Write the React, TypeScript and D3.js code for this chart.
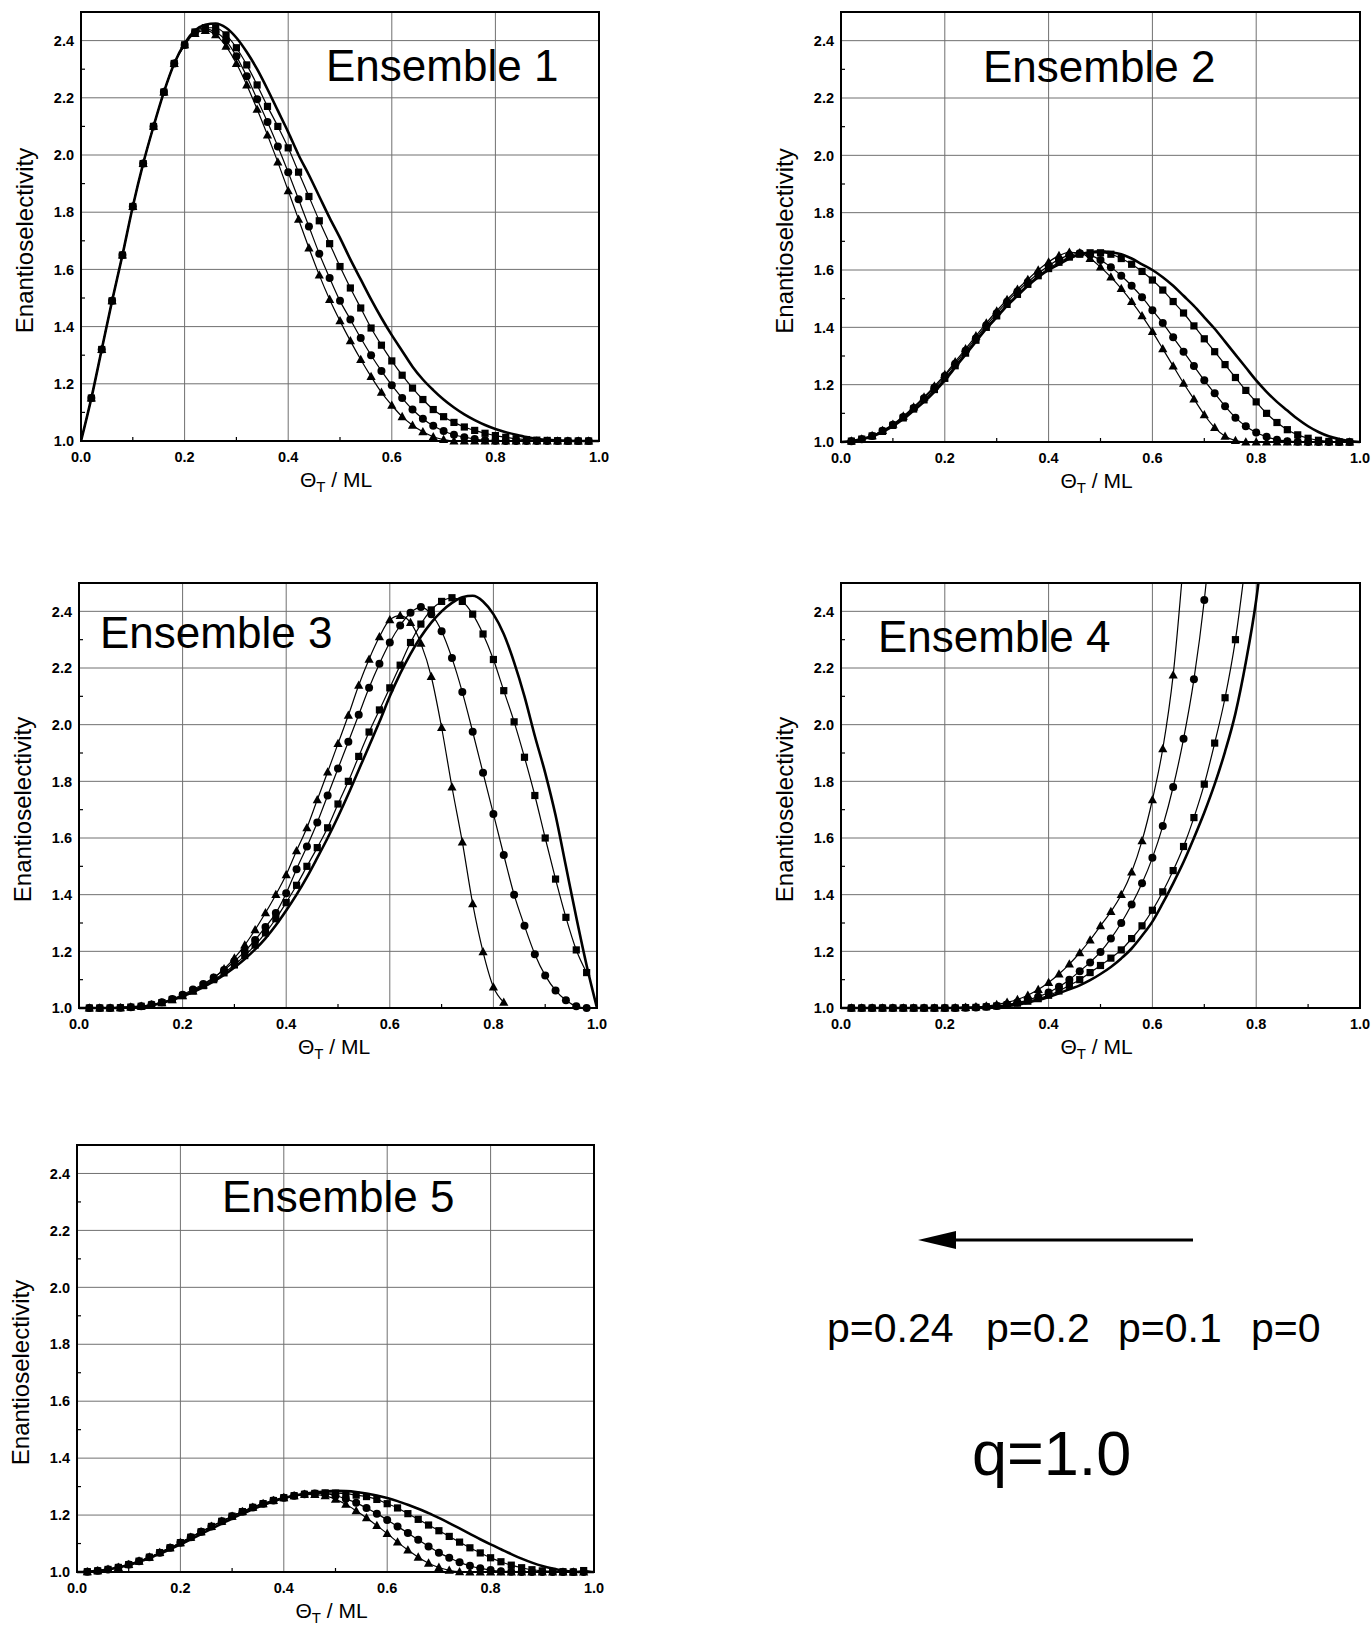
import React from 'react';
import * as d3 from 'd3';

// ---------- shared axes ----------
const THETA = [0, 0.02, 0.04, 0.06, 0.08, 0.1, 0.12, 0.14, 0.16, 0.18, 0.2, 0.22, 0.24, 0.26, 0.28, 0.3, 0.32, 0.34, 0.36, 0.38, 0.4, 0.42, 0.44, 0.46, 0.48, 0.5, 0.52, 0.54, 0.56, 0.58, 0.6, 0.62, 0.64, 0.66, 0.68, 0.7, 0.72, 0.74, 0.76, 0.78, 0.8, 0.82, 0.84, 0.86, 0.88, 0.9, 0.92, 0.94, 0.96, 0.98, 1.0];
const X_TICKS = [0, 0.2, 0.4, 0.6, 0.8, 1.0];
const X_MINOR = [0.1, 0.3, 0.5, 0.7, 0.9];
const Y_TICKS = [1.0, 1.2, 1.4, 1.6, 1.8, 2.0, 2.2, 2.4];
const Y_MINOR = [1.1, 1.3, 1.5, 1.7, 1.9, 2.1, 2.3];
const Y_DOMAIN = [1.0, 2.5];
const P_LABELS = ['p=0.24', 'p=0.2', 'p=0.1', 'p=0'];
const Q_LABEL = 'q=1.0';
const TITLES = ['Ensemble 1', 'Ensemble 2', 'Ensemble 3', 'Ensemble 4', 'Ensemble 5'];

// ---------- Ensemble 1 ----------
const E1_P0 = [1.00, 1.15, 1.32, 1.49, 1.65, 1.82, 1.97, 2.10, 2.22, 2.32, 2.39, 2.435, 2.455, 2.46, 2.445, 2.41, 2.36, 2.30, 2.23, 2.155, 2.08, 2.00, 1.93, 1.855, 1.78, 1.71, 1.635, 1.565, 1.495, 1.43, 1.37, 1.315, 1.26, 1.215, 1.178, 1.145, 1.117, 1.093, 1.073, 1.056, 1.042, 1.031, 1.022, 1.014, 1.008, 1.004, 1.002, 1.001, 1.0, 1.0, 1.0];
const E1_P01 = [1.00, 1.15, 1.32, 1.49, 1.65, 1.82, 1.97, 2.10, 2.22, 2.32, 2.385, 2.43, 2.445, 2.445, 2.42, 2.375, 2.315, 2.245, 2.17, 2.10, 2.025, 1.94, 1.855, 1.77, 1.69, 1.61, 1.535, 1.465, 1.395, 1.335, 1.28, 1.23, 1.185, 1.145, 1.11, 1.085, 1.065, 1.049, 1.037, 1.027, 1.019, 1.013, 1.008, 1.005, 1.003, 1.002, 1.001, 1.0, 1.0, 1.0, 1.0];
const E1_P02 = [1.00, 1.15, 1.32, 1.49, 1.65, 1.82, 1.97, 2.10, 2.22, 2.32, 2.385, 2.428, 2.44, 2.43, 2.40, 2.345, 2.275, 2.195, 2.115, 2.03, 1.94, 1.845, 1.75, 1.655, 1.57, 1.49, 1.425, 1.36, 1.30, 1.245, 1.195, 1.15, 1.11, 1.078, 1.053, 1.035, 1.022, 1.013, 1.007, 1.003, 1.001, 1.0, 1.0, 1.0, 1.0, 1.0, 1.0, 1.0, 1.0, 1.0, 1.0];
const E1_P024 = [1.00, 1.15, 1.32, 1.49, 1.65, 1.82, 1.97, 2.10, 2.22, 2.32, 2.385, 2.425, 2.435, 2.42, 2.38, 2.32, 2.245, 2.16, 2.07, 1.975, 1.875, 1.775, 1.675, 1.58, 1.495, 1.42, 1.35, 1.285, 1.225, 1.17, 1.125, 1.085, 1.055, 1.032, 1.015, 1.005, 1.0, 1.0, 1.0, 1.0, 1.0, 1.0, 1.0, 1.0, 1.0, 1.0, 1.0, 1.0, 1.0, 1.0, 1.0];

// ---------- Ensemble 2 ----------
const E2_P0 = [1.0, 1.003, 1.01, 1.02, 1.035, 1.055, 1.08, 1.11, 1.14, 1.175, 1.215, 1.26, 1.305, 1.35, 1.395, 1.435, 1.475, 1.51, 1.545, 1.575, 1.60, 1.62, 1.64, 1.655, 1.662, 1.665, 1.662, 1.655, 1.64, 1.62, 1.60, 1.575, 1.545, 1.51, 1.475, 1.435, 1.395, 1.35, 1.305, 1.26, 1.215, 1.175, 1.14, 1.11, 1.08, 1.055, 1.035, 1.02, 1.01, 1.003, 1.0];
const E2_P01 = [1.0, 1.003, 1.01, 1.021, 1.037, 1.058, 1.084, 1.115, 1.147, 1.183, 1.222, 1.266, 1.31, 1.355, 1.40, 1.44, 1.48, 1.515, 1.55, 1.58, 1.605, 1.627, 1.645, 1.655, 1.66, 1.66, 1.655, 1.64, 1.62, 1.595, 1.565, 1.53, 1.49, 1.45, 1.405, 1.36, 1.315, 1.27, 1.225, 1.18, 1.14, 1.10, 1.068, 1.043, 1.025, 1.013, 1.006, 1.002, 1.0, 1.0, 1.0];
const E2_P02 = [1.0, 1.003, 1.01, 1.021, 1.039, 1.06, 1.087, 1.119, 1.153, 1.19, 1.23, 1.273, 1.318, 1.362, 1.407, 1.449, 1.489, 1.525, 1.558, 1.588, 1.615, 1.637, 1.652, 1.658, 1.652, 1.635, 1.61, 1.58, 1.545, 1.505, 1.46, 1.415, 1.365, 1.315, 1.265, 1.215, 1.17, 1.125, 1.085, 1.055, 1.033, 1.018, 1.008, 1.003, 1.001, 1.0, 1.0, 1.0, 1.0, 1.0, 1.0];
const E2_P024 = [1.0, 1.003, 1.01, 1.022, 1.04, 1.062, 1.09, 1.122, 1.157, 1.195, 1.235, 1.28, 1.325, 1.37, 1.415, 1.457, 1.497, 1.533, 1.567, 1.60, 1.628, 1.65, 1.662, 1.66, 1.64, 1.61, 1.575, 1.535, 1.49, 1.44, 1.385, 1.325, 1.265, 1.205, 1.15, 1.095, 1.05, 1.02, 1.005, 1.0, 1.0, 1.0, 1.0, 1.0, 1.0, 1.0, 1.0, 1.0, 1.0, 1.0, 1.0];

// ---------- Ensemble 3 ----------
const E3_P0 = [1.0, 1.0, 1.0, 1.0, 1.001, 1.002, 1.005, 1.009, 1.018, 1.028, 1.041, 1.056, 1.074, 1.094, 1.117, 1.143, 1.173, 1.207, 1.246, 1.292, 1.344, 1.40, 1.462, 1.53, 1.60, 1.675, 1.755, 1.84, 1.925, 2.01, 2.10, 2.18, 2.25, 2.31, 2.36, 2.40, 2.43, 2.45, 2.455, 2.435, 2.39, 2.32, 2.22, 2.10, 1.96, 1.83, 1.68, 1.50, 1.32, 1.15, 1.0];
const E3_P01 = [1.0, 1.0, 1.0, 1.0, 1.001, 1.003, 1.006, 1.011, 1.019, 1.03, 1.044, 1.06, 1.079, 1.10, 1.124, 1.152, 1.185, 1.222, 1.265, 1.315, 1.372, 1.433, 1.50, 1.566, 1.636, 1.72, 1.80, 1.888, 1.974, 2.052, 2.13, 2.21, 2.29, 2.355, 2.405, 2.435, 2.448, 2.435, 2.39, 2.32, 2.23, 2.12, 2.01, 1.885, 1.75, 1.60, 1.455, 1.32, 1.205, 1.125];
const E3_P02 = [1.0, 1.0, 1.0, 1.0, 1.001, 1.003, 1.006, 1.012, 1.02, 1.032, 1.047, 1.065, 1.085, 1.108, 1.134, 1.165, 1.20, 1.24, 1.286, 1.335, 1.405, 1.49, 1.57, 1.655, 1.75, 1.845, 1.94, 2.035, 2.13, 2.215, 2.29, 2.35, 2.395, 2.415, 2.39, 2.33, 2.235, 2.115, 1.975, 1.83, 1.685, 1.54, 1.40, 1.29, 1.19, 1.115, 1.062, 1.027, 1.006, 1.0];
const E3_P024 = [1.0, 1.0, 1.0, 1.0, 1.001, 1.003, 1.006, 1.011, 1.018, 1.029, 1.043, 1.06, 1.081, 1.106, 1.138, 1.176, 1.222, 1.276, 1.336, 1.40, 1.47, 1.555, 1.636, 1.735, 1.833, 1.933, 2.033, 2.139, 2.231, 2.31, 2.37, 2.385, 2.36, 2.287, 2.17, 1.99, 1.78, 1.586, 1.368, 1.198, 1.074, 1.02];

// ---------- Ensemble 4 ----------
const E4_P0 = [1.0, 1.0, 1.0, 1.0, 1.0, 1.0, 1.0, 1.0, 1.0, 1.0, 1.0, 1.0, 1.001, 1.001, 1.002, 1.004, 1.007, 1.012, 1.019, 1.028, 1.039, 1.052, 1.066, 1.08, 1.098, 1.12, 1.145, 1.175, 1.21, 1.255, 1.305, 1.37, 1.44, 1.515, 1.60, 1.69, 1.79, 1.905, 2.04, 2.22, 2.44, 2.75];
const E4_P01 = [1.0, 1.0, 1.0, 1.0, 1.0, 1.0, 1.0, 1.0, 1.0, 1.0, 1.0, 1.0, 1.001, 1.002, 1.004, 1.007, 1.011, 1.017, 1.024, 1.033, 1.045, 1.06, 1.08, 1.10, 1.125, 1.15, 1.176, 1.205, 1.245, 1.29, 1.345, 1.41, 1.485, 1.57, 1.672, 1.79, 1.935, 2.095, 2.30, 2.58];
const E4_P02 = [1.0, 1.0, 1.0, 1.0, 1.0, 1.0, 1.0, 1.0, 1.0, 1.0, 1.0, 1.0, 1.001, 1.002, 1.004, 1.007, 1.012, 1.019, 1.028, 1.04, 1.055, 1.075, 1.10, 1.13, 1.161, 1.198, 1.245, 1.30, 1.365, 1.44, 1.53, 1.642, 1.78, 1.95, 2.16, 2.44, 2.82];
const E4_P024 = [1.0, 1.0, 1.0, 1.0, 1.0, 1.0, 1.0, 1.0, 1.0, 1.0, 1.0, 1.001, 1.002, 1.004, 1.007, 1.012, 1.02, 1.03, 1.045, 1.065, 1.09, 1.12, 1.155, 1.195, 1.24, 1.29, 1.34, 1.40, 1.48, 1.59, 1.735, 1.915, 2.175, 2.58];

// ---------- Ensemble 5 ----------
const E5_P0 = [1.0, 1.001, 1.004, 1.009, 1.016, 1.025, 1.036, 1.049, 1.064, 1.08, 1.097, 1.115, 1.133, 1.152, 1.17, 1.188, 1.205, 1.22, 1.235, 1.248, 1.26, 1.268, 1.275, 1.28, 1.283, 1.285, 1.284, 1.281, 1.276, 1.269, 1.26, 1.249, 1.236, 1.222, 1.207, 1.19, 1.172, 1.153, 1.134, 1.115, 1.097, 1.08, 1.063, 1.047, 1.033, 1.021, 1.012, 1.005, 1.001, 1.0, 1.0];
const E5_P01 = [1.0, 1.001, 1.004, 1.009, 1.016, 1.026, 1.038, 1.052, 1.068, 1.085, 1.103, 1.122, 1.141, 1.16, 1.178, 1.196, 1.212, 1.227, 1.24, 1.251, 1.261, 1.268, 1.273, 1.276, 1.278, 1.277, 1.275, 1.27, 1.265, 1.255, 1.24, 1.225, 1.205, 1.185, 1.165, 1.145, 1.125, 1.105, 1.085, 1.067, 1.05, 1.036, 1.024, 1.015, 1.008, 1.004, 1.002, 1.001, 1.0, 1.005, 1.0];
const E5_P02 = [1.0, 1.001, 1.004, 1.009, 1.016, 1.026, 1.038, 1.052, 1.068, 1.085, 1.103, 1.122, 1.141, 1.16, 1.178, 1.196, 1.212, 1.227, 1.24, 1.251, 1.261, 1.268, 1.273, 1.276, 1.275, 1.268, 1.257, 1.243, 1.225, 1.205, 1.183, 1.16, 1.137, 1.113, 1.09, 1.068, 1.05, 1.034, 1.022, 1.013, 1.007, 1.003, 1.001, 1.0, 1.0, 1.0, 1.0, 1.0, 1.0, 1.0, 1.0];
const E5_P024 = [1.0, 1.001, 1.004, 1.009, 1.016, 1.026, 1.038, 1.052, 1.068, 1.085, 1.103, 1.122, 1.141, 1.16, 1.178, 1.196, 1.212, 1.227, 1.24, 1.251, 1.261, 1.268, 1.273, 1.272, 1.268, 1.255, 1.238, 1.215, 1.19, 1.163, 1.135, 1.105, 1.077, 1.052, 1.031, 1.016, 1.006, 1.001, 1.0, 1.0, 1.0, 1.0, 1.0, 1.0, 1.0, 1.0, 1.0, 1.0, 1.0, 1.0, 1.0];

const ENSEMBLES = [
  [E1_P0, E1_P01, E1_P02, E1_P024],
  [E2_P0, E2_P01, E2_P02, E2_P024],
  [E3_P0, E3_P01, E3_P02, E3_P024],
  [E4_P0, E4_P01, E4_P02, E4_P024],
  [E5_P0, E5_P01, E5_P02, E5_P024],
];

// layout (pixel geometry of each panel)
const LAYOUT = [
  { x0: 81, x1: 599, top: 12, bot: 441, tx: 326, ty: 81 },
  { x0: 841, x1: 1360, top: 12, bot: 442, tx: 983, ty: 82 },
  { x0: 79, x1: 597, top: 583, bot: 1008, tx: 100, ty: 648 },
  { x0: 841, x1: 1360, top: 583, bot: 1008, tx: 878, ty: 652 },
  { x0: 77, x1: 594, top: 1145, bot: 1572, tx: 222, ty: 1212 },
];

const FONT = "'Liberation Sans', Arial, Helvetica, sans-serif";
const MARKERS = ['none', 'square', 'circle', 'triangle'];

function Marker({ kind, cx, cy }: { kind: string; cx: number; cy: number }) {
  if (kind === 'square') return <rect x={cx - 3.6} y={cy - 3.6} width={7.2} height={7.2} fill="#000" />;
  if (kind === 'circle') return <circle cx={cx} cy={cy} r={4} fill="#000" />;
  if (kind === 'triangle') {
    const s = 4.6;
    return <path d={`M${cx},${cy - s * 1.05}L${cx + s},${cy + s * 0.75}L${cx - s},${cy + s * 0.75}Z`} fill="#000" />;
  }
  return null;
}

function Panel({ idx }: { idx: number }) {
  const L = LAYOUT[idx];
  const series = ENSEMBLES[idx];
  const x = d3.scaleLinear().domain([0, 1]).range([L.x0, L.x1]);
  const y = d3.scaleLinear().domain(Y_DOMAIN).range([L.bot, L.top]);
  const clipId = `clip${idx}`;
  const line = d3
    .line<number>()
    .x((_, i) => x(THETA[i]))
    .y((d) => y(d))
    .curve(d3.curveMonotoneX);
  const midY = (L.top + L.bot) / 2;
  const midX = (L.x0 + L.x1) / 2;
  return (
    <g>
      <defs>
        <clipPath id={clipId}>
          <rect x={L.x0} y={L.top - 1} width={L.x1 - L.x0} height={L.bot - L.top + 6} />
        </clipPath>
      </defs>
      {/* grid */}
      {X_TICKS.slice(1, -1).map((t) => (
        <line key={'gx' + t} x1={x(t)} x2={x(t)} y1={L.top} y2={L.bot} stroke="#707070" strokeWidth={1} />
      ))}
      {Y_TICKS.slice(1).map((t) => (
        <line key={'gy' + t} x1={L.x0} x2={L.x1} y1={y(t)} y2={y(t)} stroke="#707070" strokeWidth={1} />
      ))}
      {/* minor ticks */}
      {Y_MINOR.map((t) => (
        <line key={'my' + t} x1={L.x0} x2={L.x0 + 4} y1={y(t)} y2={y(t)} stroke="#000" strokeWidth={1.2} />
      ))}
      {X_MINOR.map((t) => (
        <line key={'mx' + t} x1={x(t)} x2={x(t)} y1={L.bot} y2={L.bot - 4} stroke="#000" strokeWidth={1.2} />
      ))}
      {/* curves */}
      <g clipPath={`url(#${clipId})`}>
        {series.map((s, si) => (
          <path
            key={'l' + si}
            d={line(s) || ''}
            fill="none"
            stroke="#000"
            strokeWidth={si === 0 ? 2.6 : 1.2}
          />
        ))}
        {series.map((s, si) =>
          si === 0
            ? null
            : s.map((v, i) =>
                i === 0 || i === 50 || v > 2.55 ? null : (
                  <Marker key={`m${si}-${i}`} kind={MARKERS[si]} cx={x(THETA[i])} cy={y(v)} />
                )
              )
        )}
      </g>
      {/* frame */}
      <rect x={L.x0} y={L.top} width={L.x1 - L.x0} height={L.bot - L.top} fill="none" stroke="#000" strokeWidth={2} />
      {/* tick labels */}
      {Y_TICKS.map((t) => (
        <text
          key={'ty' + t}
          x={L.x0 - 7}
          y={y(t)}
          dy="0.36em"
          textAnchor="end"
          fontFamily={FONT}
          fontSize={14.5}
          fontWeight="bold"
        >
          {t.toFixed(1)}
        </text>
      ))}
      {X_TICKS.map((t) => (
        <text
          key={'tx' + t}
          x={x(t)}
          y={L.bot + 21}
          textAnchor="middle"
          fontFamily={FONT}
          fontSize={14.5}
          fontWeight="bold"
        >
          {t.toFixed(1)}
        </text>
      ))}
      {/* axis titles */}
      <text
        transform={`translate(${L.x0 - 48},${midY + 14}) rotate(-90)`}
        textAnchor="middle"
        fontFamily={FONT}
        fontSize={24}
      >
        Enantioselectivity
      </text>
      <text x={midX - 4} y={L.bot + 46} textAnchor="middle" fontFamily={FONT} fontSize={21}>
        Θ
        <tspan fontSize={15} dy={5}>
          T
        </tspan>
        <tspan dy={-5}>{' / ML'}</tspan>
      </text>
      {/* ensemble label */}
      <text x={L.tx} y={L.ty} fontFamily={FONT} fontSize={44}>
        {TITLES[idx]}
      </text>
    </g>
  );
}

export default function App() {
  const pX = [827, 986, 1118, 1251];
  return (
    <svg
      width={1372}
      height={1627}
      viewBox="0 0 1372 1627"
      style={{ position: 'absolute', left: 0, top: 0, background: '#fff' }}
    >
      <rect x={0} y={0} width={1372} height={1627} fill="#fff" />
      {LAYOUT.map((_, i) => (
        <Panel key={i} idx={i} />
      ))}
      {/* arrow */}
      <line x1={1193} y1={1240} x2={950} y2={1240} stroke="#000" strokeWidth={3} />
      <path d="M918,1240L956,1231L956,1249Z" fill="#000" />
      {P_LABELS.map((p, i) => (
        <text key={p} x={pX[i]} y={1342} fontFamily={FONT} fontSize={41}>
          {p}
        </text>
      ))}
      <text x={972} y={1475} fontFamily={FONT} fontSize={63}>
        {Q_LABEL}
      </text>
    </svg>
  );
}
